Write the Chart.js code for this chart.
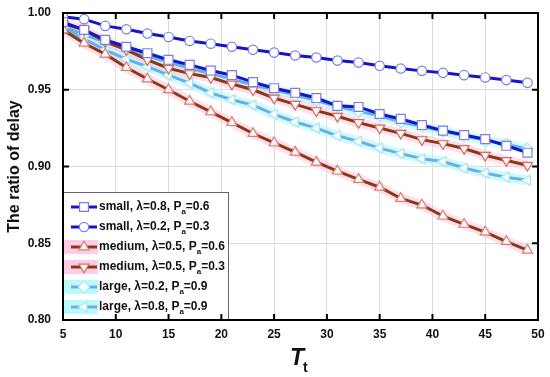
<!DOCTYPE html>
<html>
<head>
<meta charset="utf-8">
<script src="https://cdn.jsdelivr.net/npm/chart.js@4.4.0/dist/chart.umd.min.js"></script>
<style>
  html, body { margin: 0; padding: 0; background: #fff; }
  #wrap { width: 550px; height: 377px; }
</style>
</head>
<body>
<div id="wrap"><canvas id="delayChart" width="550" height="377"></canvas></div>
<script>
// T_t values (every 2 from 5 to 49)
const tt = [5, 7, 9, 11, 13, 15, 17, 19, 21, 23, 25, 27, 29, 31, 33, 35, 37, 39, 41, 43, 45, 47, 49];

const smallL08Pa06 = [0.994, 0.989, 0.9825, 0.978, 0.9738, 0.9695, 0.9662, 0.9625, 0.9595, 0.955, 0.951, 0.948,
  0.9446, 0.9395, 0.9388, 0.9342, 0.931, 0.927, 0.9234, 0.9205, 0.9178, 0.9135, 0.909];
const smallL02Pa03 = [0.9975, 0.996, 0.9916, 0.9894, 0.9866, 0.9844, 0.9818, 0.980, 0.978, 0.976, 0.9742, 0.9723,
  0.971, 0.969, 0.9677, 0.9656, 0.9638, 0.9623, 0.961, 0.9595, 0.958, 0.9563, 0.9545];
const mediumL05Pa06 = [0.989, 0.9803, 0.9732, 0.9645, 0.957, 0.950, 0.9425, 0.9356, 0.9286, 0.9215, 0.9154, 0.9093,
  0.9028, 0.897, 0.8916, 0.8865, 0.8792, 0.8749, 0.8677, 0.8623, 0.8573, 0.8511, 0.8455];
const mediumL05Pa03 = [0.993, 0.989, 0.9814, 0.976, 0.9695, 0.964, 0.9605, 0.958, 0.9537, 0.950, 0.9446, 0.9405,
  0.9364, 0.9327, 0.9286, 0.9251, 0.9216, 0.9175, 0.9149, 0.9117, 0.9073, 0.9039, 0.9008];
const largeL02Pa09 = [0.991, 0.986, 0.981, 0.977, 0.972, 0.968, 0.964, 0.9605, 0.957, 0.953, 0.950, 0.9465,
  0.943, 0.939, 0.936, 0.933, 0.929, 0.926, 0.923, 0.920, 0.917, 0.9145, 0.9115];
const largeL08Pa09 = [0.990, 0.983, 0.976, 0.970, 0.965, 0.9595, 0.9543, 0.948, 0.9435, 0.940, 0.934, 0.929,
  0.925, 0.920, 0.9164, 0.912, 0.9084, 0.905, 0.9032, 0.899, 0.8957, 0.893, 0.891];

const xTicks = [5, 10, 15, 20, 25, 30, 35, 40, 45, 50];
const yTicks = [0.80, 0.85, 0.90, 0.95, 1.00];

const toPts = arr => arr.map((v, i) => ({ x: tt[i], y: v }));

// series look: label parts, line, marker edge, marker style, rotation, glow
const series = [
  { name: 'small, \u03BB=0.8, P', pa: '=0.6', data: smallL08Pa06, line: '#1414c8', edge: '#7c7ce8', style: 'rect', rot: 0, r: 6.3, glow: null },
  { name: 'small, \u03BB=0.2, P', pa: '=0.3', data: smallL02Pa03, line: '#1414c8', edge: '#7c7ce8', style: 'circle', rot: 0, r: 4.7, glow: null },
  { name: 'medium, \u03BB=0.5, P', pa: '=0.6', data: mediumL05Pa06, line: '#8a3a12', edge: '#e07a6a', style: 'triangle', rot: 0, r: 5.8, glow: 'rgba(255,190,225,0.5)' },
  { name: 'medium, \u03BB=0.5, P', pa: '=0.3', data: mediumL05Pa03, line: '#8a3a12', edge: '#d86a5a', style: 'triangle', rot: 180, r: 5.8, glow: 'rgba(255,190,225,0.5)' },
  { name: 'large, \u03BB=0.2, P', pa: '=0.9', data: largeL02Pa09, line: '#6aaee6', edge: '#a8e4f4', style: 'rectRot', rot: 0, r: 5.8, glow: 'rgba(170,250,255,0.55)' },
  { name: 'large, \u03BB=0.8, P', pa: '=0.9', data: largeL08Pa09, line: '#6aaee6', edge: '#a8e4f4', style: 'triangle', rot: -90, r: 5.8, glow: 'rgba(170,250,255,0.55)' }
];

const datasets = series.map(s => ({
  data: toPts(s.data),
  borderColor: s.line,
  borderWidth: 3,
  pointStyle: s.style,
  rotation: s.rot,
  pointRadius: s.r,
  pointBorderColor: s.edge,
  pointBorderWidth: 1.2,
  pointBackgroundColor: '#ffffff',
  tension: 0
}));
// soft coloured bands behind some lines, drawn first
series.forEach(s => {
  if (!s.glow) return;
  datasets.push({
    data: toPts(s.data),
    borderColor: s.glow,
    borderWidth: 10,
    pointRadius: 0,
    tension: 0
  });
});

function drawMarker(ctx, s, x, y) {
  const r = s.r;
  ctx.save();
  ctx.translate(x, y);
  ctx.rotate(s.rot * Math.PI / 180);
  ctx.beginPath();
  if (s.style === 'circle') {
    ctx.arc(0, 0, r, 0, Math.PI * 2);
  } else if (s.style === 'rect') {
    const h = r * Math.SQRT1_2;
    ctx.rect(-h, -h, 2 * h, 2 * h);
  } else if (s.style === 'rectRot') {
    ctx.moveTo(0, -r); ctx.lineTo(r, 0); ctx.lineTo(0, r); ctx.lineTo(-r, 0); ctx.closePath();
  } else {
    const a = r * 0.866;
    ctx.moveTo(0, -r); ctx.lineTo(a, r / 2); ctx.lineTo(-a, r / 2); ctx.closePath();
  }
  ctx.fillStyle = '#fff';
  ctx.fill();
  ctx.lineWidth = 1.2;
  ctx.strokeStyle = s.edge;
  ctx.stroke();
  ctx.restore();
}

const framePlugin = {
  id: 'frame',
  afterDraw(chart) {
    const ctx = chart.ctx;
    const a = chart.chartArea;
    const xs = chart.scales.x, ys = chart.scales.y;
    ctx.save();

    // legend box
    const lx = a.left, ly = 192, lw = 165, lh = a.bottom - 192;
    ctx.fillStyle = '#fff';
    ctx.fillRect(lx, ly, lw, lh);
    ctx.strokeStyle = '#666';
    ctx.lineWidth = 1;
    ctx.strokeRect(lx + 0.5, ly + 0.5, lw, lh);
    series.forEach((s, i) => {
      const cy = 207 + i * 20;
      if (s.glow) {
        ctx.fillStyle = s.glow.replace(/[\d.]+\)$/, '0.8)');
        ctx.fillRect(lx + 1, cy - 7, 34, 14);
      }
      ctx.strokeStyle = s.line;
      ctx.lineWidth = 3;
      ctx.beginPath();
      ctx.moveTo(71, cy); ctx.lineTo(97, cy);
      ctx.stroke();
      drawMarker(ctx, s, 84, cy);
      ctx.fillStyle = '#111';
      ctx.font = 'bold 12px "Liberation Sans", Arial, sans-serif';
      ctx.textBaseline = 'middle';
      ctx.textAlign = 'left';
      ctx.fillText(s.name, 99, cy);
      const w1 = ctx.measureText(s.name).width;
      ctx.font = 'bold 8px "Liberation Sans", Arial, sans-serif';
      ctx.fillText('a', 99 + w1, cy + 5);
      const w2 = ctx.measureText('a').width;
      ctx.font = 'bold 12px "Liberation Sans", Arial, sans-serif';
      ctx.fillText(s.pa, 99 + w1 + w2, cy);
    });

    // frame
    ctx.strokeStyle = '#000';
    ctx.lineWidth = 2;
    ctx.strokeRect(a.left, a.top, a.right - a.left, a.bottom - a.top);

    // inward ticks
    ctx.lineWidth = 2;
    ctx.beginPath();
    xTicks.forEach(v => {
      const px = xs.getPixelForValue(v);
      ctx.moveTo(px, a.bottom); ctx.lineTo(px, a.bottom - 6);
      ctx.moveTo(px, a.top); ctx.lineTo(px, a.top + 6);
    });
    yTicks.forEach(v => {
      const py = ys.getPixelForValue(v);
      if (py > ly) { ctx.moveTo(a.right, py); ctx.lineTo(a.right - 6, py); return; }
      ctx.moveTo(a.left, py); ctx.lineTo(a.left + 6, py);
      ctx.moveTo(a.right, py); ctx.lineTo(a.right - 6, py);
    });
    ctx.stroke();

    // axis titles
    ctx.fillStyle = '#111';
    ctx.save();
    ctx.translate(15, (a.top + a.bottom) / 2);
    ctx.rotate(-Math.PI / 2);
    ctx.font = 'bold 16px "Liberation Sans", Arial, sans-serif';
    ctx.textAlign = 'center';
    ctx.textBaseline = 'middle';
    ctx.fillText('The ratio of delay', 0, 0);
    ctx.restore();

    ctx.textAlign = 'left';
    ctx.textBaseline = 'alphabetic';
    ctx.font = 'italic bold 23px "Liberation Sans", Arial, sans-serif';
    ctx.fillText('T', 290, 365);
    ctx.font = 'bold 14px "Liberation Sans", Arial, sans-serif';
    ctx.fillText('t', 303, 372);
    ctx.restore();
  }
};

new Chart(document.getElementById('delayChart'), {
  type: 'line',
  data: { datasets },
  options: {
    responsive: false,
    animation: false,
    layout: { padding: { left: 0, top: 13, right: 12, bottom: 0 } },
    plugins: { legend: { display: false }, tooltip: { enabled: false } },
    scales: {
      x: {
        type: 'linear',
        min: 5, max: 50,
        afterFit: sc => { sc.height = 57; sc.paddingLeft = 0; sc.paddingRight = 0; },
        afterBuildTicks: sc => { sc.ticks = xTicks.map(v => ({ value: v })); },
        grid: { color: '#dcdcdc', lineWidth: 1, drawTicks: false },
        border: { display: false },
        ticks: { color: '#111', padding: 7, font: { family: '"Liberation Sans", Arial', size: 12, weight: 'bold' } }
      },
      y: {
        min: 0.8, max: 1.0,
        afterFit: sc => { sc.width = 63; sc.paddingTop = 0; sc.paddingBottom = 0; },
        afterBuildTicks: sc => { sc.ticks = yTicks.map(v => ({ value: v })); },
        grid: { color: '#dcdcdc', lineWidth: 1, drawTicks: false },
        border: { display: false },
        ticks: {
          color: '#111', padding: 12,
          font: { family: '"Liberation Sans", Arial', size: 12, weight: 'bold' },
          callback: v => v.toFixed(2)
        }
      }
    }
  },
  plugins: [framePlugin]
});
</script>
</body>
</html>
